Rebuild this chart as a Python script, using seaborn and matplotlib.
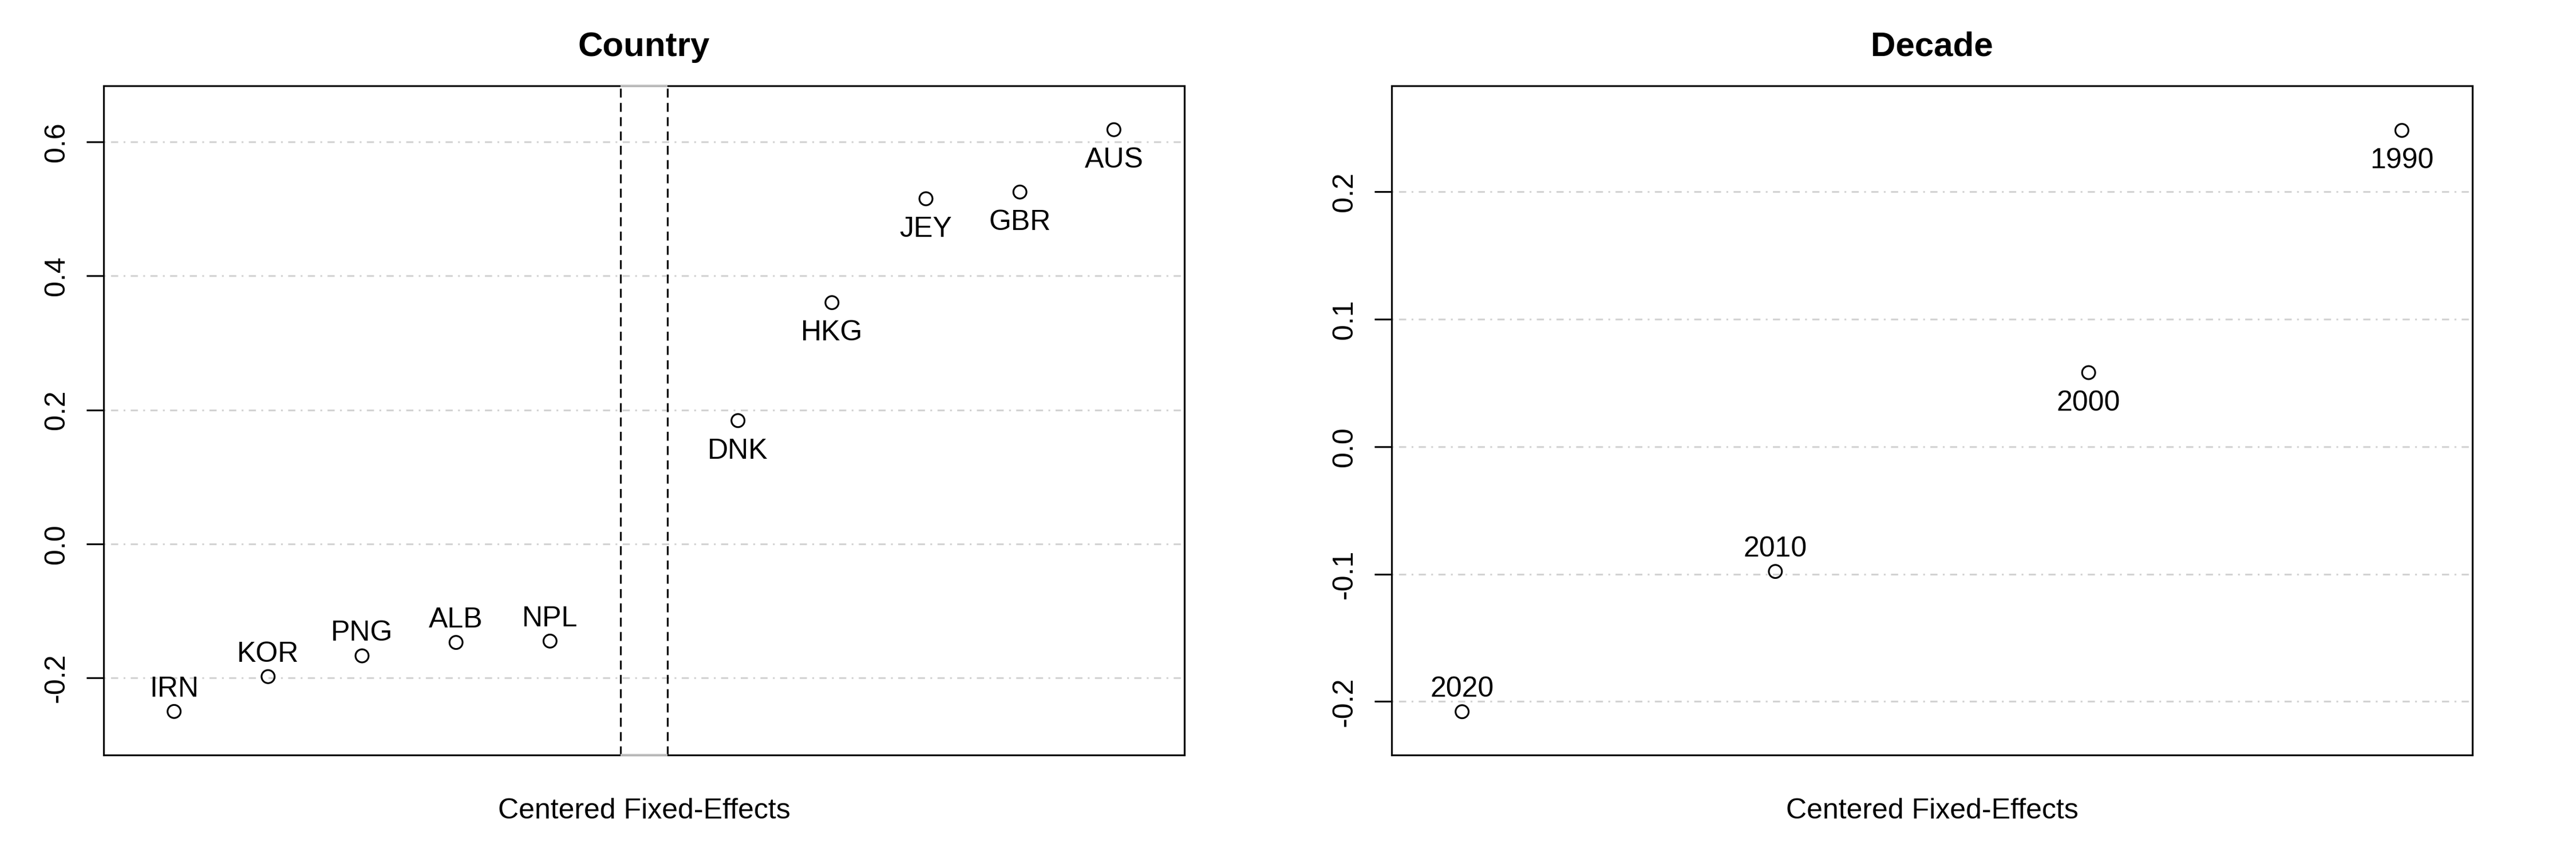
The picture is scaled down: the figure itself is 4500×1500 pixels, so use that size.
import numpy as np
import pandas as pd
import matplotlib
matplotlib.use("Agg")
import matplotlib.pyplot as plt
import matplotlib.transforms as mtransforms
import seaborn as sns

# ---------------- data ----------------
countries = ["IRN", "KOR", "PNG", "ALB", "NPL", "DNK", "HKG", "JEY", "GBR", "AUS"]
country_fe = [-0.250, -0.198, -0.167, -0.147, -0.145, 0.184, 0.360, 0.515, 0.525, 0.618]

decades = ["2020", "2010", "2000", "1990"]
decade_fe = [-0.208, -0.098, 0.058, 0.248]

country_yticks = [-0.2, 0.0, 0.2, 0.4, 0.6]
country_yticklabels = ["-0.2", "0.0", "0.2", "0.4", "0.6"]
decade_yticks = [-0.2, -0.1, 0.0, 0.1, 0.2]
decade_yticklabels = ["-0.2", "-0.1", "0.0", "0.1", "0.2"]

panel_titles = ["Country", "Decade"]
x_label = "Centered Fixed-Effects"

# ---------------- style ----------------
sns.set_theme(style="white")
plt.rcParams["font.family"] = ["Liberation Sans", "DejaVu Sans"]
plt.rcParams["axes.edgecolor"] = "black"
plt.rcParams["axes.linewidth"] = 0.75
plt.rcParams["text.color"] = "black"
plt.rcParams["axes.labelcolor"] = "black"
plt.rcParams["axes.titlecolor"] = "black"
plt.rcParams["xtick.color"] = "black"
plt.rcParams["ytick.color"] = "black"

fig = plt.figure(figsize=(15, 5), dpi=300)
W, H = 4500.0, 1500.0
ax_l = fig.add_axes([181 / W, (H - 1320) / H, 1888 / W, 1170 / H])
ax_r = fig.add_axes([2431 / W, (H - 1320) / H, 1888 / W, 1170 / H])


def build_df(names, values, gap=False):
    pos = []
    for i, v in enumerate(values):
        p = i + 1
        if gap and v > 0:
            p += 1
        pos.append(p)
    return pd.DataFrame({"name": names, "value": values, "pos": pos})


def draw_panel(ax, df, title, yticks, yticklabels, xlim, ylim):
    ax.set_xlim(*xlim)
    ax.set_ylim(*ylim)
    # grid lines (dot-dash, light grey)
    for yt in yticks:
        ax.axhline(yt, color="#D3D3D3", lw=0.75, ls=(0, (1, 3, 4, 3)), zorder=1)
    sns.scatterplot(data=df, x="pos", y="value", ax=ax, s=30,
                    facecolors="none", edgecolor="black", linewidth=0.75,
                    zorder=4, legend=False)
    for _, r in df.iterrows():
        dy = 9.4 if r["value"] < 0 else -12.8
        ax.annotate(r["name"], (r["pos"], r["value"]), xytext=(0, dy),
                    textcoords="offset points", ha="center", va="center",
                    fontsize=12, color="black", zorder=5)
    ax.set_xticks([])
    ax.set_yticks(yticks)
    ax.set_yticklabels(yticklabels, rotation=90, va="center", fontsize=12,
                       color="black")
    ax.tick_params(axis="y", direction="out", length=7.2, width=0.75,
                   pad=7, colors="black", left=True)
    ax.set_title(title, fontsize=14.4, fontweight="bold", pad=12.5,
                 color="black")
    ax.set_xlabel(x_label, fontsize=12, labelpad=18, color="black")
    ax.set_ylabel("")
    for sp in ax.spines.values():
        sp.set_visible(True)
        sp.set_color("black")
        sp.set_linewidth(0.75)


df_c = build_df(countries, country_fe, gap=True)
df_d = build_df(decades, decade_fe)

draw_panel(ax_l, df_c, panel_titles[0], country_yticks, country_yticklabels,
           (0.25, 11.75), (-0.315, 0.6835))
draw_panel(ax_r, df_d, panel_titles[1], decade_yticks, decade_yticklabels,
           (0.775, 4.225), (-0.242, 0.283))

# separator between negative and positive groups in country panel
neg_last = df_c.loc[df_c["value"] < 0, "pos"].max()
pos_first = df_c.loc[df_c["value"] > 0, "pos"].min()
center = (neg_last + pos_first) / 2.0
half = 0.25
for xv in (center - half, center + half):
    ax_l.axvline(xv, color="black", lw=0.75, ls=(0, (5, 3)), zorder=3)
trans = mtransforms.blended_transform_factory(ax_l.transData, ax_l.transAxes)
for yv in (0, 1):
    ax_l.plot([center - half, center + half], [yv, yv], color="#BEBEBE",
              lw=0.9, transform=trans, clip_on=False, zorder=6,
              solid_capstyle="butt")

fig.savefig("out.png", dpi=300)
